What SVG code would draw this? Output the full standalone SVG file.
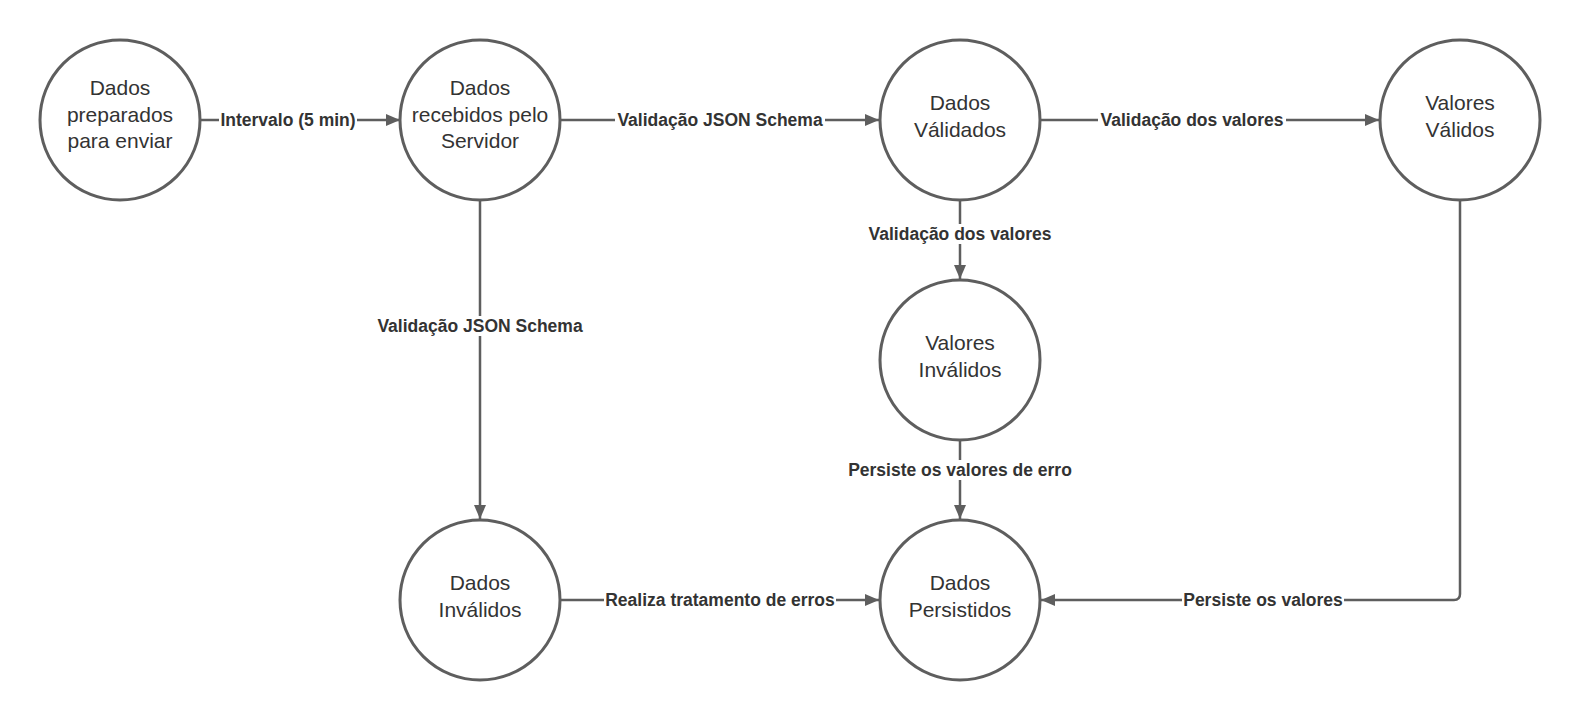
<svg xmlns="http://www.w3.org/2000/svg" width="1580" height="720" viewBox="0 0 1580 720">
<style>
.node circle{fill:#fff;stroke:#5e5e5e;stroke-width:3}
.node text{font-family:"Liberation Sans",Arial,sans-serif;font-size:21px;fill:#333;text-anchor:middle}
.edge path{fill:none;stroke:#5e5e5e;stroke-width:2.5}
.lbl rect{fill:#fff}
.lbl text{font-family:"Liberation Sans",Arial,sans-serif;font-size:17.5px;font-weight:bold;fill:#333;text-anchor:middle}
</style>
<defs>
<marker id="arr" viewBox="0 0 14 12" refX="14" refY="6" markerWidth="14" markerHeight="12" markerUnits="userSpaceOnUse" orient="auto">
<path d="M0,0 L14,6 L0,12 Z" fill="#5e5e5e"/>
</marker>
</defs>
<rect width="1580" height="720" fill="#fff"/>
<g id="connectors">
<g class="edge">
<path d="M200,120 H400" marker-end="url(#arr)"/>
<path d="M561,120 H879" marker-end="url(#arr)"/>
<path d="M1041,120 H1379" marker-end="url(#arr)"/>
<path d="M960,201 V279" marker-end="url(#arr)"/>
<path d="M480,201 V519" marker-end="url(#arr)"/>
<path d="M960,441 V519" marker-end="url(#arr)"/>
<path d="M561,600 H879" marker-end="url(#arr)"/>
<path d="M1460,201 V594 Q1460,600 1454,600 H1041" marker-end="url(#arr)"/>
</g>
<g class="lbl">
<rect x="219" y="110" width="138" height="20"/><text x="288" y="126">Intervalo (5 min)</text>
<rect x="615" y="110" width="210" height="20"/><text x="720" y="126">Validação JSON Schema</text>
<rect x="1098" y="110" width="188" height="20"/><text x="1192" y="126">Validação dos valores</text>
<rect x="866" y="224" width="188" height="20"/><text x="960" y="240">Validação dos valores</text>
<rect x="375" y="316" width="210" height="20"/><text x="480" y="332">Validação JSON Schema</text>
<rect x="848" y="460" width="224" height="20"/><text x="960" y="476">Persiste os valores de erro</text>
<rect x="604" y="590" width="232" height="20"/><text x="720" y="606">Realiza tratamento de erros</text>
<rect x="1182" y="590" width="162" height="20"/><text x="1263" y="606">Persiste os valores</text>
</g>
</g>
<g id="n1" class="node"><circle cx="120" cy="120" r="80"/><text x="120" y="95">Dados</text><text x="120" y="122">preparados</text><text x="120" y="148">para enviar</text></g>
<g id="n2" class="node"><circle cx="480" cy="120" r="80"/><text x="480" y="95">Dados</text><text x="480" y="122">recebidos pelo</text><text x="480" y="148">Servidor</text></g>
<g id="n3" class="node"><circle cx="960" cy="120" r="80"/><text x="960" y="110">Dados</text><text x="960" y="137">Válidados</text></g>
<g id="n4" class="node"><circle cx="1460" cy="120" r="80"/><text x="1460" y="110">Valores</text><text x="1460" y="137">Válidos</text></g>
<g id="n5" class="node"><circle cx="960" cy="360" r="80"/><text x="960" y="350">Valores</text><text x="960" y="377">Inválidos</text></g>
<g id="n6" class="node"><circle cx="480" cy="600" r="80"/><text x="480" y="590">Dados</text><text x="480" y="617">Inválidos</text></g>
<g id="n7" class="node"><circle cx="960" cy="600" r="80"/><text x="960" y="590">Dados</text><text x="960" y="617">Persistidos</text></g>
</svg>
